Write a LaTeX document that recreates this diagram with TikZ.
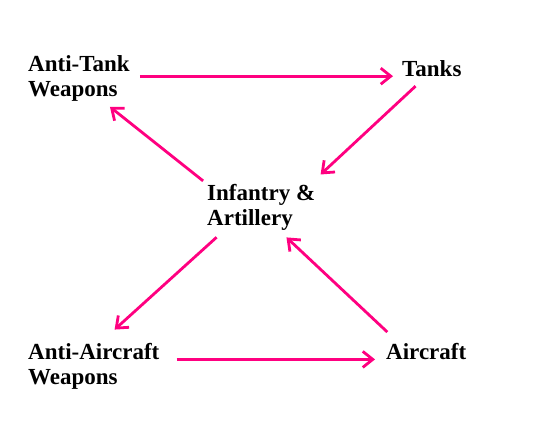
\documentclass[tikz,border=0pt]{standalone}
\usepackage{fontspec}
\setmainfont{Liberation Serif}
\usetikzlibrary{arrows.meta}
\definecolor{arrowpink}{RGB}{255,0,128}

\begin{document}
\begin{tikzpicture}[x=1pt,y=-1pt]
\tikzstyle{every node}=[inner sep=0pt,align=left,anchor=north west,font=\fontsize{23}{25}\selectfont\bfseries];
\tikzstyle{arr}=[->,>={Straight Barb[length=10pt,width=16pt]},draw=arrowpink,line width=2.8pt];
\useasboundingbox (0,0) rectangle (549,431);
\node (at) at (28,55) {Anti-Tank\\Weapons};
\node (tk) at (402,60) {Tanks};
\node (inf) at (207,184) {Infantry \&\\Artillery};
\node (aa) at (28,343) {Anti-Aircraft\\Weapons};
\node (ac) at (386,343) {Aircraft};
% the cycle round the middle
\draw [arr,shorten <=10pt,shorten >=9pt] (at.east |- tk.base) -- (tk.base west);
\draw [arr,shorten <=14pt,shorten >=14pt] ([xshift=-6pt]tk.south) -- ([xshift=-5pt]inf.north east);
\draw [arr,shorten <=5pt,shorten >=9pt] (inf.north west) -- ([xshift=24pt]at.south);
\draw [arr,shorten <=10pt,shorten >=20pt] ([xshift=17pt]inf.south west) -- ([xshift=6pt]aa.north);
\draw [arr,shorten <=16pt,shorten >=10pt] ([xshift=13pt]ac.north west) -- ([xshift=18pt]inf.south);
\draw [arr,shorten <=17pt,shorten >=11pt] (aa.east |- ac.base) -- (ac.base west);
\end{tikzpicture}
\end{document}
